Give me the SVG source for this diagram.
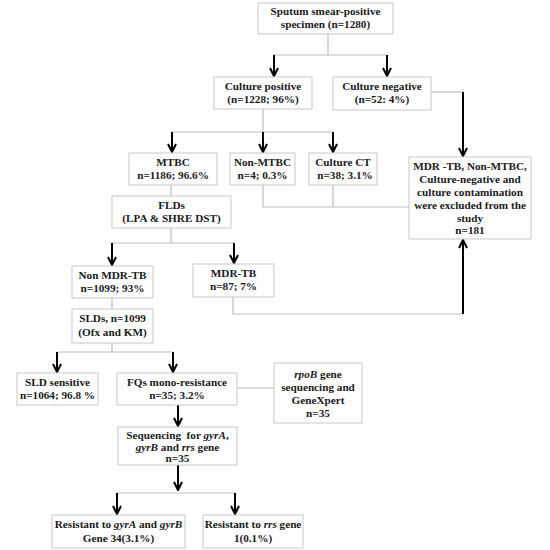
<svg xmlns="http://www.w3.org/2000/svg" width="550" height="550" viewBox="0 0 550 550">
<style>
.box{fill:#fff;stroke:#c8c8c8;stroke-width:1}
.t{font-family:"Liberation Serif","Times New Roman",serif;font-weight:bold;font-size:11.2px;fill:#1a1a1a;text-anchor:middle}
.c{stroke:#bdbdbd;stroke-width:1.2;fill:none}
.a{stroke:#000;stroke-width:2;fill:none;marker-end:url(#ah)}
</style>
<defs>
<marker id="ah" viewBox="0 0 10 10" refX="9" refY="5" markerUnits="userSpaceOnUse" markerWidth="10" markerHeight="10" orient="auto">
<path d="M1,1 L9,5 L1,9" fill="none" stroke="#000" stroke-width="2"/>
</marker>
</defs>
<rect width="550" height="550" fill="#fff"/>
<g id="connectors">
<path class="c" d="M328,34 V55 M274,55 H387"/>
<path class="a" d="M274,55 V76"/>
<path class="a" d="M387,55 V76"/>
<path class="c" d="M263,109 V132 M172,132 H333"/>
<path class="a" d="M172,132 V152"/>
<path class="a" d="M263,132 V152"/>
<path class="a" d="M333,132 V152"/>
<path class="c" d="M431,92 H463"/>
<path class="a" d="M463,92 V156"/>
<path class="c" d="M263,185 V207 H409 M333,185 V207"/>
<path class="c" d="M171,185 V196"/>
<path class="c" d="M171,228 V243 M112,243 H234"/>
<path class="a" d="M112,243 V265"/>
<path class="a" d="M234,243 V263"/>
<path class="c" d="M233,297 V314 H463"/>
<path class="a" d="M463,314 V240"/>
<path class="c" d="M112,298 V309"/>
<path class="c" d="M112,343 V352 M57,352 H173"/>
<path class="a" d="M57,352 V372"/>
<path class="a" d="M173,352 V372"/>
<path class="c" d="M237,388 H274"/>
<path class="a" d="M178,405 V426"/>
<path class="a" d="M178,465 V490"/>
<path class="c" d="M117,493 H235"/>
<path class="a" d="M117,493 V514"/>
<path class="a" d="M235,493 V514"/>
</g>
<g id="n1"><rect class="box" x="258" y="3" width="135" height="31"/>
<text class="t" x="325.5" y="15">Sputum smear-positive</text><text class="t" x="325.5" y="28">specimen (n=1280)</text></g>
<g id="n2"><rect class="box" x="214" y="77" width="98" height="32"/>
<text class="t" x="263" y="90">Culture positive</text><text class="t" x="263" y="103">(n=1228; 96%)</text></g>
<g id="n3"><rect class="box" x="333" y="77" width="98" height="33"/>
<text class="t" x="382" y="90">Culture negative</text><text class="t" x="382" y="103">(n=52: 4%)</text></g>
<g id="n4"><rect class="box" x="129" y="153" width="88" height="32"/>
<text class="t" x="173" y="166">MTBC</text><text class="t" x="173" y="179">n=1186; 96.6%</text></g>
<g id="n5"><rect class="box" x="230" y="153" width="65" height="32"/>
<text class="t" x="262.5" y="166">Non-MTBC</text><text class="t" x="262.5" y="179">n=4; 0.3%</text></g>
<g id="n6"><rect class="box" x="309" y="153" width="68" height="32"/>
<text class="t" x="343" y="166">Culture CT</text><text class="t" x="345" y="179">n=38; 3.1%</text></g>
<g id="n7"><rect class="box" x="409" y="157" width="122" height="82"/>
<text class="t" x="470" y="170">MDR -TB, Non-MTBC,</text>
<text class="t" x="470" y="183">Culture-negative and</text>
<text class="t" x="470" y="196">culture contamination</text>
<text class="t" x="470" y="209">were excluded from the</text>
<text class="t" x="470" y="222">study</text>
<text class="t" x="470" y="234">n=181</text></g>
<g id="n8"><rect class="box" x="112" y="196" width="119" height="32"/>
<text class="t" x="171.5" y="209">FLDs</text><text class="t" x="171.5" y="222">(LPA &amp; SHRE DST)</text></g>
<g id="n9"><rect class="box" x="72" y="266" width="81" height="32"/>
<text class="t" x="112.5" y="279">Non MDR-TB</text><text class="t" x="112.5" y="292">n=1099; 93%</text></g>
<g id="n10"><rect class="box" x="193" y="264" width="81" height="33"/>
<text class="t" x="233.5" y="277">MDR-TB</text><text class="t" x="233.5" y="290">n=87; 7%</text></g>
<g id="n11"><rect class="box" x="72" y="309" width="81" height="34"/>
<text class="t" x="112.5" y="322">SLDs, n=1099</text><text class="t" x="112.5" y="336">(Ofx and KM)</text></g>
<g id="n12"><rect class="box" x="17" y="373" width="81" height="32"/>
<text class="t" x="57.5" y="386">SLD sensitive</text><text class="t" x="57.5" y="399">n=1064; 96.8 %</text></g>
<g id="n13"><rect class="box" x="117" y="373" width="120" height="32"/>
<text class="t" x="177" y="386">FQs mono-resistance</text><text class="t" x="177" y="399">n=35; 3.2%</text></g>
<g id="n14"><rect class="box" x="274" y="363" width="88" height="60"/>
<text class="t" x="318" y="378"><tspan font-style="italic">rpoB</tspan> gene</text>
<text class="t" x="318" y="391">sequencing and</text>
<text class="t" x="318" y="404">GeneXpert</text>
<text class="t" x="318" y="417">n=35</text></g>
<g id="n15"><rect class="box" x="118" y="427" width="119" height="38"/>
<text class="t" x="177.5" y="439" xml:space="preserve">Sequencing  for <tspan font-style="italic">gyrA</tspan>,</text>
<text class="t" x="177.5" y="451"><tspan font-style="italic">gyrB</tspan> and <tspan font-style="italic">rrs</tspan> gene</text>
<text class="t" x="177.5" y="462">n=35</text></g>
<g id="n16"><rect class="box" x="52" y="515" width="133" height="33"/>
<text class="t" x="118.5" y="528">Resistant to <tspan font-style="italic">gyrA</tspan> and <tspan font-style="italic">gyrB</tspan></text>
<text class="t" x="118.5" y="542">Gene 34(3.1%)</text></g>
<g id="n17"><rect class="box" x="203" y="515" width="100" height="33"/>
<text class="t" x="253" y="528">Resistant to <tspan font-style="italic">rrs</tspan> gene</text>
<text class="t" x="253" y="542">1(0.1%)</text></g>
</svg>
